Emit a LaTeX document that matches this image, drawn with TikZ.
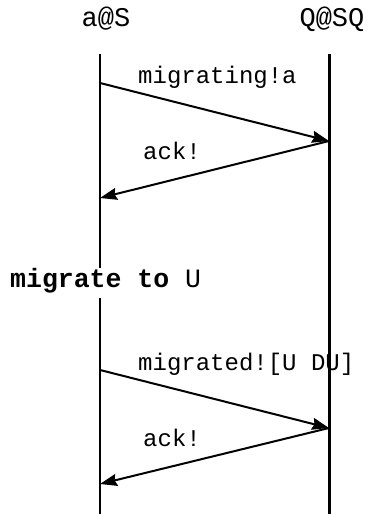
\documentclass[tikz,border=0pt]{standalone}
\usepackage{fontspec}
\newfontfamily\cour{Liberation Mono}
\usetikzlibrary{arrows.meta}
\begin{document}
\begin{tikzpicture}[x=1pt,y=1pt,
  lifeA/.style={line width=2pt},
  lifeB/.style={line width=3pt},
  msg/.style={line width=2pt,-{Stealth[length=17pt,width=12pt,inset=2pt]}},
  msgtext/.style={anchor=base west,inner sep=0pt,font=\cour\fontsize{24}{24}\selectfont},
  headtext/.style={anchor=base,inner sep=0pt,font=\cour\fontsize{27}{27}\selectfont},
  acttext/.style={anchor=base west,inner sep=0pt,font=\cour\fontsize{26.5}{26.5}\selectfont}]
\useasboundingbox (0,0) rectangle (369,514);
% heads
\node[headtext] (hA) at (106,487) {a@S};
\node[headtext] (hB) at (332,487) {Q@SQ};
% lifeline coordinates
\coordinate (Ltop) at (100,460);
\coordinate (Lgapa) at (100,246);
\coordinate (Lgapb) at (100,216);
\coordinate (Lbot) at (100,0);
\coordinate (Rtop) at (329,460);
\coordinate (Rbot) at (329,0);
\draw[lifeA] (Ltop) -- (Lgapa);
\draw[lifeA] (Lgapb) -- (Lbot);
\draw[lifeB] (Rtop) -- (Rbot);
% message points
\coordinate (m1s) at (100,431);
\coordinate (m1e) at (329,373);
\coordinate (a1e) at (100,316);
\coordinate (m2s) at (100,144);
\coordinate (m2e) at (329,86);
\coordinate (a2e) at (100,30);
\draw[msg] (m1s) -- (m1e);
\draw[msg] (m1e) -- (a1e);
\draw[msg] (m2s) -- (m2e);
\draw[msg] (m2e) -- (a2e);
% labels
\node[msgtext] (t1) at (138,430) {migrating!a};
\node[msgtext] (t2) at (143,354) {ack!};
\node[msgtext] (t3) at (138,143) {migrated![U DU]};
\node[msgtext] (t4) at (143,67) {ack!};
\node[acttext] (mig) at (10,226) {\textbf{migrate to} U};
\end{tikzpicture}
\end{document}
